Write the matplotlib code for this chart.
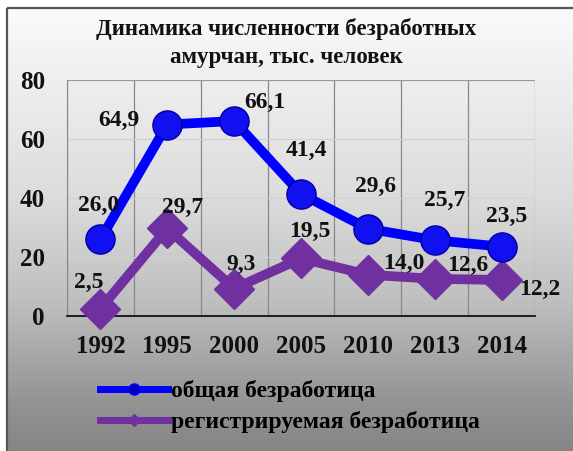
import matplotlib.pyplot as plt
import numpy as np
from matplotlib.lines import Line2D
from matplotlib.patches import Rectangle

years = ["1992", "1995", "2000", "2005", "2010", "2013", "2014"]
obshaya = [26.0, 64.9, 66.1, 41.4, 29.6, 25.7, 23.5]
registr = [2.5, 29.7, 9.3, 19.5, 14.0, 12.6, 12.2]
obshaya_lbl = ["26,0", "64,9", "66,1", "41,4", "29,6", "25,7", "23,5"]
registr_lbl = ["2,5", "29,7", "9,3", "19,5", "14,0", "12,6", "12,2"]

W, H = 573, 451
plt.rcParams['font.family'] = ['Liberation Serif', 'DejaVu Serif']
plt.rcParams['font.weight'] = 'bold'

fig = plt.figure(figsize=(W / 100, H / 100), dpi=100)

# фон с градиентом
bg = fig.add_axes([0, 0, 1, 1])
bg.set_xlim(0, W)
bg.set_ylim(H, 0)
bg.axis('off')
yy = np.arange(H)
stops_y = [0, 10, 200, 300, 400, 451]
stops_c = [1.0, 0.98, 0.86, 0.75, 0.58, 0.52]
g = np.interp(yy, stops_y, stops_c)
img = np.repeat(g[:, None], W, axis=1)
img = np.dstack([img, img, img])
img[:, :7] = 1.0
img[:8, :] = 1.0
bg.imshow(img, extent=[0, W, H, 0], aspect='auto', zorder=0)
bg.add_patch(Rectangle((7, 8), W, H, fill=False, edgecolor='#555555', lw=1.6, zorder=1))

fig.text(0.5, 1 - 29 / H, "Динамика численности безработных", ha='center', va='center',
         fontsize=16.5, fontweight='bold', color='#111111')
fig.text(0.5, 1 - 58 / H, "амурчан, тыс. человек", ha='center', va='center',
         fontsize=16.5, fontweight='bold', color='#111111')

left, right, top, bottom = 67, 535, 80, 316
ax = fig.add_axes([left / W, 1 - bottom / H, (right - left) / W, (bottom - top) / H])
ax.patch.set_alpha(0)
x = np.arange(len(years))
ax.set_xlim(-0.5, len(years) - 0.5)
ax.set_ylim(0, 80)
ax.set_yticks([0, 20, 40, 60, 80])
ax.set_xticks(x)
ax.set_xticklabels(years)
ax.tick_params(axis='both', length=0, labelsize=18, colors='#111111')
ax.tick_params(axis='x', pad=14)
ax.tick_params(axis='y', pad=16)
for t in ax.get_yticklabels() + ax.get_xticklabels():
    t.set_fontweight('bold')

for xv in np.arange(-0.5, len(years), 1.0):
    ax.axvline(xv, color='#888888', lw=0.9, zorder=1)
for yv in [20, 40, 60]:
    ax.axhline(yv, color='#d0d0d0', lw=0.8, zorder=1)
ax.axhline(80, color='#999999', lw=0.9, zorder=1)
for s in ['top', 'right']:
    ax.spines[s].set_visible(False)
ax.spines['left'].set_color('#888888')
ax.spines['bottom'].set_color('#111111')
ax.spines['bottom'].set_linewidth(1.3)

ax.plot(x, obshaya, color='#0000ff', lw=7, marker='o', markersize=21,
        markerfacecolor='#1010f0', markeredgecolor='#0000a0', markeredgewidth=1, zorder=4,
        solid_capstyle='round', clip_on=False)
ax.plot(x, registr, color='#7030a0', lw=7, marker='D', markersize=20,
        markerfacecolor='#7030a0', markeredgecolor='#7030a0', zorder=3, clip_on=False)

# подписи значений (смещения в пикселях)
off_o = [(-2, 34), (-48, 4), (31, 19), (5, 43), (8, 42), (10, 40), (5, 30)]
off_r = [(-12, 26), (15, 21), (7, 24), (9, 27), (36, 11), (33, 13), (38, -9)]
for i in range(len(years)):
    ax.annotate(obshaya_lbl[i], (x[i], obshaya[i]), xytext=off_o[i], textcoords='offset pixels',
                ha='center', va='center', fontsize=17, fontweight='bold', color='#111111', zorder=6)
    ax.annotate(registr_lbl[i], (x[i], registr[i]), xytext=off_r[i], textcoords='offset pixels',
                ha='center', va='center', fontsize=17, fontweight='bold', color='#111111', zorder=6)

handles = [
    Line2D([], [], color='#0000ff', lw=5, marker='o', markersize=8, markerfacecolor='#0000c0'),
    Line2D([], [], color='#7030a0', lw=5, marker='D', markersize=6, markerfacecolor='#7030a0'),
]
fig.legend(handles, ["общая безработица", "регистрируемая безработица"],
           loc='upper left', bbox_to_anchor=(100 / W, 1 - 380 / H), frameon=False,
           prop={'size': 17, 'weight': 'bold'}, handlelength=2.9, handletextpad=0.1,
           labelspacing=0.4, borderaxespad=0, borderpad=0)

fig.savefig("out.png", dpi=100)
